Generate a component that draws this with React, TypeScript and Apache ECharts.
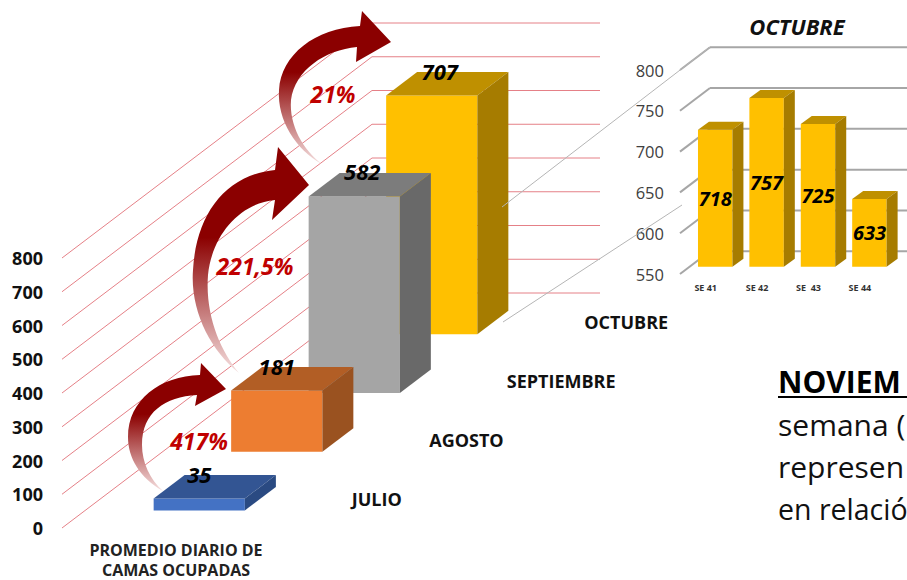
import React, { useEffect, useRef } from "react";
import * as echarts from "echarts";

const months = ["JULIO", "AGOSTO", "SEPTIEMBRE", "OCTUBRE"];
const monthValues = [35, 181, 582, 707];
const mainTicks = [0, 100, 200, 300, 400, 500, 600, 700, 800];
const monthFront = ["#4472C4", "#ED7D31", "#A5A5A5", "#FFC000"];
const monthTop = ["#335593", "#B25E25", "#7C7C7C", "#BF9000"];
const monthSide = ["#2A4A82", "#9A5220", "#696969", "#A67C00"];
const monthLabelShift = [0, 0, 8, 8];

const weeks = ["SE 41", "SE 42", "SE  43", "SE 44"];
const weekValues = [718, 757, 725, 633];
const insetTicks = [550, 600, 650, 700, 750, 800];

const percents = ["417%", "221,5%", "21%"];
const noteLines = ["semana (", "represen", "en relació"];
const noteSizes = [30, 30, 28.5];

const arrows = [
  "M163 491 C140 478 128 458 128 437 C128 400 160 376 200 375 L201 363 L226 389 L195 406 L197 395 C165 397 142 412 142 445 C142 462 150 480 163 491 Z",
  "M239 373 C210 350 190 310 193 270 C196 215 225 175 275 170 L278 147 L309 185 L272 220 L275 200 C240 203 212 235 208 275 C205 315 220 350 239 373 Z",
  "M322 164 C296 150 277 120 279 90 C281 55 315 28 360 26 L362 11 L391 42 L356 62 L357 47 C325 50 295 70 291 100 C289 125 303 150 322 164 Z",
];
arrows.forEach((d, i) =>
  echarts.graphic.registerShape("curveArrow" + i, echarts.graphic.extendPath(d, {}))
);

const FONT = '"Open Sans"';
const SLOPE = 235 / 310;
const MAIN_WIDTH = 228;
const INSET_DEPTH_X = 30;
const arrowFill = {
  type: "linear",
  x: 0,
  y: 0,
  x2: 0,
  y2: 1,
  colorStops: [
    { offset: 0, color: "#8B0000" },
    { offset: 0.4, color: "#8B0000" },
    { offset: 1, color: "#F5DFDF" },
  ],
};

function box(px: number, py: number, w: number, h: number, dx: number, dy: number, c: string[], z: number) {
  return [
    { type: "polygon", z2: z, shape: { points: [[px, py], [px + w, py], [px + w, py + h], [px, py + h]] }, style: { fill: c[0] } },
    { type: "polygon", z2: z, shape: { points: [[px, py], [px + dx, py - dy], [px + w + dx, py - dy], [px + w, py]] }, style: { fill: c[1] } },
    { type: "polygon", z2: z, shape: { points: [[px + w, py], [px + w + dx, py - dy], [px + w + dx, py + h - dy], [px + w, py + h]] }, style: { fill: c[2] } },
  ];
}

function mainWall(_: any, api: any) {
  const v = api.value(0);
  const p = api.coord([0, v]);
  const band = api.size([1, 0])[0];
  const x0 = p[0] - band / 2;
  const x1 = x0 + band * months.length;
  const y1 = p[1] - band * months.length * SLOPE;
  return {
    type: "polyline",
    shape: { points: [[x0, p[1]], [x1, y1], [x1 + MAIN_WIDTH, y1]] },
    style: { stroke: "#E58087", lineWidth: 1, fill: "none" },
  };
}

function mainBar(_: any, api: any) {
  const i = api.value(0);
  const v = api.value(1);
  const top = api.coord([i, v]);
  const base = api.coord([i, 0]);
  const band = api.size([1, 0])[0];
  const bandY = band * SLOPE;
  const barW = MAIN_WIDTH * 0.4;
  const dx = band * 0.4;
  const dy = bandY * 0.4;
  const fx = top[0] + MAIN_WIDTH / 2 - dx / 2 - barW / 2;
  const shift = (i + 0.5) * bandY - dy / 2;
  const fy = top[1] - shift;
  const h = base[1] - top[1];
  return {
    type: "group",
    children: [
      ...box(fx, fy, barW, h, dx, dy, [monthFront[i], monthTop[i], monthSide[i]], 10 - i * 2),
      {
        type: "text",
        z2: 30,
        style: {
          text: String(monthValues[i]),
          x: fx + barW / 2 + monthLabelShift[i],
          y: fy - 25,
          font: `italic bold 22px ${FONT}`,
          fill: "#000",
          align: "center",
          verticalAlign: "middle",
        },
      },
      {
        type: "text",
        z2: 30,
        style: {
          text: months[i],
          x: top[0] + 251,
          y: base[1] - (i + 0.5) * bandY,
          font: `bold 18px ${FONT}`,
          fill: "#111",
          align: "left",
          verticalAlign: "middle",
        },
      },
    ],
  };
}

function insetWall(_: any, api: any) {
  const v = api.value(0);
  const p = api.coord([0, v]);
  const band = api.size([1, 0])[0];
  const x0 = p[0] - band / 2;
  const x1 = x0 + INSET_DEPTH_X;
  const y1 = p[1] - INSET_DEPTH_X * SLOPE;
  return {
    type: "group",
    children: [
      { type: "line", shape: { x1: x0, y1: p[1], x2: x1, y2: y1 }, style: { stroke: "#A6A6A6", lineWidth: 2 } },
      { type: "line", shape: { x1, y1, x2: 907, y2: y1 }, style: { stroke: "#A6A6A6", lineWidth: 2 } },
    ],
  };
}

function insetBar(_: any, api: any) {
  const i = api.value(0);
  const v = api.value(1);
  const top = api.coord([i, v]);
  const base = api.coord([i, 550]);
  const band = api.size([1, 0])[0];
  const barW = band * 0.67;
  const dx = 11;
  const dy = 8;
  const off = (INSET_DEPTH_X - dx) / 2;
  const fx = top[0] + off - barW / 2;
  const shift = off * SLOPE;
  const fy = top[1] - shift;
  const h = base[1] - top[1];
  return {
    type: "group",
    children: [
      ...box(fx, fy, barW, h, dx, dy, ["#FFC000", "#BF9000", "#A67C00"], 10),
      {
        type: "text",
        z2: 30,
        style: {
          text: String(weekValues[i]),
          x: fx + barW / 2,
          y: fy + h / 2,
          font: `italic bold 20px ${FONT}`,
          fill: "#000",
          align: "center",
          verticalAlign: "middle",
        },
      },
    ],
  };
}

const pctPos = [[199, 441], [255, 266], [333, 94]];

function buildOption(): any {
  return {
    animation: false,
    backgroundColor: "#fff",
    grid: [
      { left: 62, top: 258, width: 310, height: 270 },
      { left: 680, top: 70, width: 205.6, height: 204 },
    ],
    xAxis: [
      { type: "category", gridIndex: 0, data: months, show: false },
      {
        type: "category",
        gridIndex: 1,
        data: weeks,
        axisLine: { show: false },
        axisTick: { show: false },
        axisLabel: { margin: 9, fontFamily: FONT, fontWeight: "bold", fontSize: 9, color: "#333", interval: 0 },
      },
    ],
    yAxis: [
      {
        type: "value",
        gridIndex: 0,
        min: 0,
        max: 800,
        interval: 100,
        axisLine: { show: false },
        axisTick: { show: false },
        splitLine: { show: false },
        axisLabel: { margin: 19, fontFamily: FONT, fontWeight: "bold", fontSize: 18, color: "#111" },
      },
      {
        type: "value",
        gridIndex: 1,
        min: 550,
        max: 800,
        interval: 50,
        axisLine: { show: false },
        axisTick: { show: false },
        splitLine: { show: false },
        axisLabel: { margin: 16, fontFamily: FONT, fontSize: 16.5, color: "#404040" },
      },
    ],
    series: [
      { type: "custom", xAxisIndex: 1, yAxisIndex: 1, z: 2, data: insetTicks.map((v) => [v]), encode: { x: -1, y: 0 }, renderItem: insetWall, silent: true },
      { type: "custom", xAxisIndex: 1, yAxisIndex: 1, z: 3, data: weekValues.map((v, i) => [i, v]), encode: { x: 0, y: 1 }, renderItem: insetBar, silent: true },
      { type: "custom", xAxisIndex: 0, yAxisIndex: 0, z: 4, data: mainTicks.map((v) => [v]), encode: { x: -1, y: 0 }, renderItem: mainWall, silent: true },
      { type: "custom", xAxisIndex: 0, yAxisIndex: 0, z: 5, data: monthValues.map((v, i) => [i, v]), encode: { x: 0, y: 1 }, renderItem: mainBar, silent: true },
    ],
    graphic: [
      { type: "line", z: 20, shape: { x1: 502, y1: 207, x2: 710, y2: 47 }, style: { stroke: "#B5B5B5", lineWidth: 1 } },
      { type: "line", z: 20, shape: { x1: 503, y1: 322, x2: 682, y2: 205 }, style: { stroke: "#B5B5B5", lineWidth: 1 } },
      ...arrows.map((_, i) => ({ type: "curveArrow" + i, x: 0, y: 0, z: 21, style: { fill: arrowFill } })),
      ...percents.map((t, i) => ({
        type: "text",
        z: 22,
        x: pctPos[i][0],
        y: pctPos[i][1],
        style: { text: t, font: `italic bold 23px ${FONT}`, fill: "#C00000", align: "center", verticalAlign: "middle" },
      })),
      { type: "text", z: 22, x: 797, y: 26, style: { text: "OCTUBRE", font: `italic bold 22px ${FONT}`, fill: "#111", align: "center", verticalAlign: "middle" } },
      { type: "text", z: 22, x: 176, y: 560, style: { text: "PROMEDIO DIARIO DE\nCAMAS OCUPADAS", font: `bold 16px ${FONT}`, lineHeight: 20, fill: "#222", align: "center", verticalAlign: "middle" } },
      { type: "text", z: 22, x: 778, y: 381, style: { text: "NOVIEM", font: `bold 30px ${FONT}`, fill: "#000", align: "left", verticalAlign: "middle" } },
      { type: "rect", z: 22, shape: { x: 778, y: 396, width: 129, height: 2 }, style: { fill: "#000" } },
      ...noteLines.map((t, i) => ({
        type: "text",
        z: 22,
        x: 778,
        y: 424 + i * 42.5,
        style: { text: t, font: `${noteSizes[i]}px ${FONT}`, fill: "#111", align: "left", verticalAlign: "middle" },
      })),
    ],
  };
}

export default function App() {
  const ref = useRef<HTMLDivElement>(null);
  useEffect(() => {
    const chart = echarts.init(ref.current!, null, { renderer: "svg" });
    chart.setOption(buildOption());
    return () => chart.dispose();
  }, []);
  return <div ref={ref} style={{ position: "absolute", left: 0, top: 0, width: 907, height: 580, overflow: "hidden" }} />;
}
